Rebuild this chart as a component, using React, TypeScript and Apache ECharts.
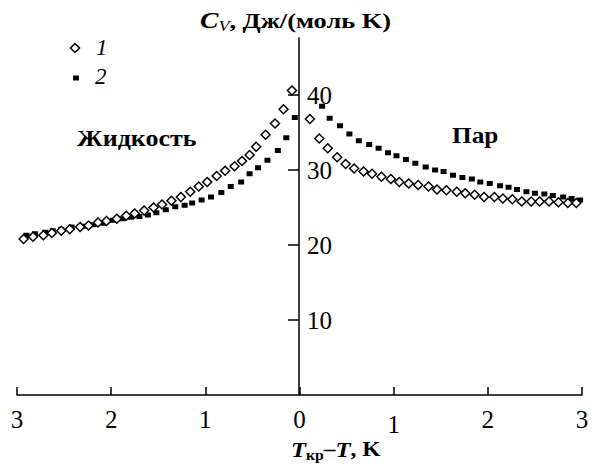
import React, { useEffect, useRef } from "react";
import * as echarts from "echarts";

// Series 1 (open diamonds): x = T_cr - T (negative = liquid side), y = Cv
const diamondsX = [
  -2.93, -2.83, -2.72, -2.63, -2.53, -2.44, -2.33, -2.24, -2.14, -2.05,
  -1.94, -1.84, -1.75, -1.65, -1.55, -1.46, -1.36, -1.26, -1.16, -1.07,
  -0.98, -0.88, -0.79, -0.69, -0.61, -0.53, -0.46, -0.36, -0.26, -0.17, -0.08,
  0.11, 0.21, 0.30, 0.40, 0.49, 0.58, 0.68, 0.77, 0.87, 0.97,
  1.06, 1.16, 1.26, 1.37, 1.46, 1.56, 1.67, 1.76, 1.86, 1.96,
  2.07, 2.16, 2.26, 2.36, 2.46, 2.55, 2.65, 2.75, 2.85, 2.94,
];
const diamondsY = [
  20.8, 21.1, 21.3, 21.6, 21.9, 22.1, 22.4, 22.6, 23.0, 23.2,
  23.5, 23.9, 24.2, 24.6, 25.0, 25.4, 25.9, 26.4, 27.1, 27.8,
  28.4, 29.2, 29.9, 30.5, 31.2, 32.0, 33.1, 34.7, 36.2, 38.1, 40.6,
  36.8, 34.2, 32.9, 31.7, 30.8, 30.2, 29.8, 29.5, 29.1, 28.8,
  28.4, 28.2, 28.0, 27.8, 27.4, 27.3, 27.1, 26.9, 26.7, 26.4,
  26.4, 26.2, 26.1, 25.8, 25.8, 25.8, 25.8, 25.7, 25.6, 25.6,
];

// Series 2 (filled squares)
const squaresX = [
  -2.90, -2.81, -2.70, -2.62, -2.53, -2.42, -2.30, -2.19, -2.08, -1.98,
  -1.88, -1.79, -1.70, -1.61, -1.52, -1.42, -1.32, -1.22, -1.14, -1.04,
  -0.94, -0.83, -0.73, -0.62, -0.53, -0.44, -0.34, -0.23, -0.14, -0.05,
  0.24, 0.32, 0.43, 0.53, 0.63, 0.74, 0.84, 0.94, 1.03, 1.13,
  1.23, 1.34, 1.44, 1.53, 1.63, 1.73, 1.83, 1.92, 2.02, 2.13,
  2.22, 2.31, 2.41, 2.50, 2.60, 2.69, 2.80, 2.89, 2.98,
];
const squaresY = [
  21.3, 21.5, 21.7, 21.9, 22.1, 22.4, 22.5, 22.7, 22.9, 23.3,
  23.5, 23.7, 23.8, 24.0, 24.3, 24.7, 25.1, 25.3, 25.6, 26.0,
  26.4, 27.0, 27.8, 28.4, 29.5, 30.3, 31.3, 32.6, 34.3, 37.0,
  38.5, 36.9, 35.9, 34.8, 33.9, 33.4, 32.9, 32.3, 31.9, 31.4,
  30.9, 30.4, 30.0, 29.8, 29.3, 29.0, 28.8, 28.4, 28.2, 27.9,
  27.7, 27.4, 27.1, 26.9, 26.8, 26.6, 26.4, 26.2, 26.0,
];

const yTickValues = [10, 20, 30, 40];
const legendLabels = ["1", "2"];
const regionLabels = ["Жидкость", "Пар"];

const FONT = "'Liberation Serif', 'Times New Roman', serif";
const Y_MAX = 47.6;

export default function App() {
  const ref = useRef<HTMLDivElement>(null);

  useEffect(() => {
    if (!ref.current) return;
    const chart = echarts.init(ref.current, null, { renderer: "svg" });
    const pair = (xs: number[], ys: number[]) => xs.map((x, i) => [x, ys[i]]);
    const black = { color: "#000", width: 1.5 };

    chart.setOption({
      animation: false,
      backgroundColor: "#fff",
      grid: [
        { left: 17, right: 18, top: 38, bottom: 73, containLabel: false },
        { left: 299, right: 18, top: 38, bottom: 73, containLabel: false },
      ],
      xAxis: [
        {
          gridIndex: 0,
          type: "value",
          min: -3,
          max: 3,
          interval: 1,
          axisLine: { onZero: false, lineStyle: black },
          axisTick: { inside: true, length: 8, lineStyle: black },
          axisLabel: {
            color: "#000",
            fontFamily: FONT,
            fontSize: 25,
            margin: 12,
            formatter: (v: number) => (v === 1 ? "{low|1}" : String(Math.abs(v))),
            rich: { low: { fontFamily: FONT, fontSize: 25, color: "#000", padding: [5, 0, 0, 0] } },
          },
          splitLine: { show: false },
        },
        { gridIndex: 1, type: "value", min: 0, max: 1, show: false },
      ],
      yAxis: [
        { gridIndex: 0, type: "value", min: 0, max: Y_MAX, show: false },
        {
          gridIndex: 1,
          type: "value",
          min: 0,
          max: Y_MAX,
          position: "left",
          axisLine: { show: true, onZero: false, lineStyle: black },
          axisTick: { show: true, inside: false, length: 11, customValues: yTickValues, lineStyle: black },
          axisLabel: {
            inside: true,
            margin: 8,
            customValues: yTickValues,
            color: "#000",
            fontFamily: FONT,
            fontSize: 25,
            padding: [0, 0, 4, 0],
          },
          splitLine: { show: false },
        },
      ],
      series: [
        {
          name: legendLabels[0],
          type: "scatter",
          xAxisIndex: 0,
          yAxisIndex: 0,
          symbol: "diamond",
          symbolSize: 9,
          data: pair(diamondsX, diamondsY),
          itemStyle: { color: "#fff", borderColor: "#000", borderWidth: 1.5, opacity: 1 },
          z: 3,
        },
        {
          name: legendLabels[1],
          type: "scatter",
          xAxisIndex: 0,
          yAxisIndex: 0,
          symbol: "rect",
          symbolSize: [6, 5],
          data: pair(squaresX, squaresY),
          itemStyle: { color: "#000", opacity: 1 },
          z: 2,
        },
      ],
      graphic: [
        {
          type: "text",
          x: 200,
          y: 20,
          scaleX: 1.2,
          style: {
            text: "{i|C}{sub|V}{b|, Дж/(моль K)}",
            verticalAlign: "middle",
            rich: {
              i: { fontFamily: FONT, fontSize: 23, fontStyle: "italic", fontWeight: "bold", fill: "#000" },
              sub: { fontFamily: FONT, fontSize: 15, fontStyle: "italic", fill: "#000", padding: [12, 0, 0, 0] },
              b: { fontFamily: FONT, fontSize: 22, fontWeight: "bold", fill: "#000" },
            },
          },
        },
        {
          type: "text",
          x: 291,
          y: 449,
          scaleX: 1.12,
          style: {
            text: "{i|T}{sub|кр}{n|–}{i|T}{n|, K}",
            verticalAlign: "middle",
            rich: {
              i: { fontFamily: FONT, fontSize: 22, fontStyle: "italic", fontWeight: "bold", fill: "#000" },
              sub: { fontFamily: FONT, fontSize: 14, fontWeight: "bold", fill: "#000", padding: [12, 0, 0, 0] },
              n: { fontFamily: FONT, fontSize: 21, fontWeight: "bold", fill: "#000" },
            },
          },
        },
        {
          type: "text",
          x: 77,
          y: 138,
          scaleX: 1.13,
          style: {
            text: regionLabels[0],
            verticalAlign: "middle",
            fontFamily: FONT,
            fontSize: 23,
            fontWeight: "bold",
            fill: "#000",
          },
        },
        {
          type: "text",
          x: 452,
          y: 135,
          scaleX: 1.1,
          style: {
            text: regionLabels[1],
            verticalAlign: "middle",
            fontFamily: FONT,
            fontSize: 23,
            fontWeight: "bold",
            fill: "#000",
          },
        },
        {
          type: "polygon",
          shape: { points: [[75, 43.5], [79.5, 48], [75, 52.5], [70.5, 48]] },
          style: { fill: "#fff", stroke: "#000", lineWidth: 1.5 },
        },
        {
          type: "rect",
          shape: { x: 73, y: 75.5, width: 6, height: 5 },
          style: { fill: "#000" },
        },
        {
          type: "text",
          x: 96,
          y: 47,
          style: {
            text: legendLabels[0],
            verticalAlign: "middle",
            fontFamily: FONT,
            fontSize: 23,
            fontStyle: "italic",
            fill: "#000",
          },
        },
        {
          type: "text",
          x: 95,
          y: 76,
          style: {
            text: legendLabels[1],
            verticalAlign: "middle",
            fontFamily: FONT,
            fontSize: 23,
            fontStyle: "italic",
            fill: "#000",
          },
        },
      ],
    });

    return () => chart.dispose();
  }, []);

  return <div ref={ref} style={{ width: 600, height: 468, position: "absolute", left: 0, top: 0 }} />;
}
